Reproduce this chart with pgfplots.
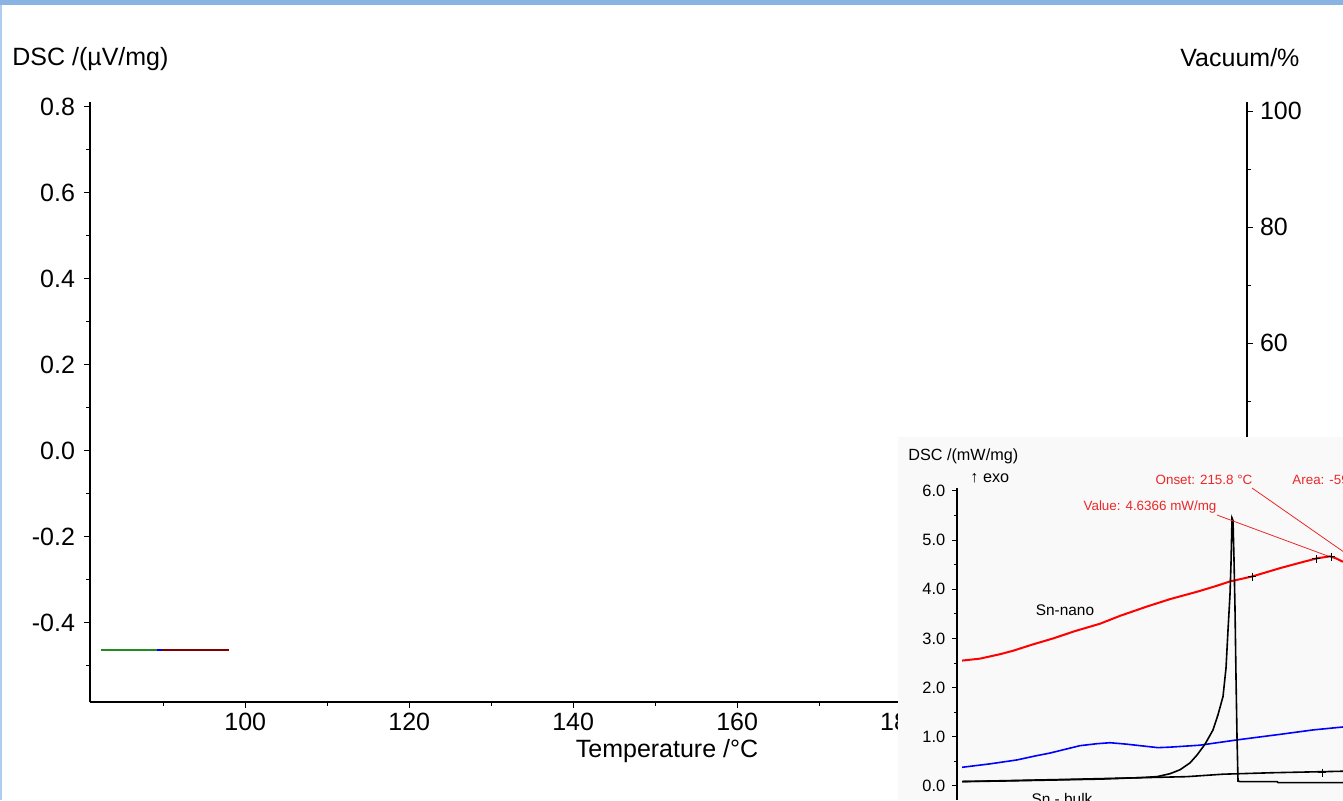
\documentclass[border=0pt]{standalone}
\usepackage{fontspec}
\setmainfont{Liberation Sans}
\usepackage{pgfplots}
\pgfplotsset{compat=1.18}
\definecolor{dscgreen}{RGB}{34,139,34}
\definecolor{dscred}{RGB}{128,0,0}
\definecolor{band}{RGB}{137,179,226}
\definecolor{strip}{RGB}{175,205,240}
\definecolor{insetbg}{RGB}{249,249,249}
\definecolor{annred}{RGB}{235,40,40}
\newcommand{\mainfont}{\fontsize{12.5}{15}\selectfont}
\begin{document}
\begin{tikzpicture}
\fill[white] (0,0) rectangle (671.5pt,400pt);
\fill[band] (0,397.5pt) rectangle (671.5pt,400pt);
\fill[strip] (0,0) rectangle (1pt,397.5pt);

% main DSC axis
\begin{axis}[
  at={(45pt,49pt)}, anchor=south west, scale only axis,
  width=578.5pt, height=300pt,
  xmin=81.06, xmax=222.2, ymin=-0.5844, ymax=0.811,
  axis x line=bottom, axis y line=left,
  axis line style={-, line width=0.6pt},
  tick align=outside, major tick length=3pt, minor tick length=2pt,
  tick style={black, line width=0.5pt},
  xtick={100,120,140,160,180,200,220},
  xticklabels={100,120,140,160,180,200,220},
  minor xtick={90,110,130,150,170,190,210},
  ytick={-0.4,-0.2,0,0.2,0.4,0.6,0.8},
  yticklabels={-0.4,-0.2,0.0,0.2,0.4,0.6,0.8},
  minor ytick={-0.5,-0.3,-0.1,0.1,0.3,0.5,0.7},
  ticklabel style={font=\mainfont},
  xticklabel style={yshift=1pt},
  yticklabel style={xshift=-1pt},
  clip=false,
]
\addplot[dscgreen, line width=0.75pt] coordinates {(82.40,-0.4635) (89.23,-0.4635)};
\addplot[blue, line width=0.75pt] coordinates {(89.23,-0.4635) (89.84,-0.4635)};
\addplot[dscred, line width=0.75pt] coordinates {(89.84,-0.4635) (98.01,-0.4635)};
\end{axis}

% right vacuum axis
\begin{axis}[
  at={(45pt,49pt)}, anchor=south west, scale only axis,
  width=578.5pt, height=300pt,
  xmin=81.06, xmax=222.2, ymin=-1.77, ymax=101.55,
  axis x line=none, axis y line=right,
  axis line style={-, line width=0.6pt},
  tick align=outside, major tick length=3pt, minor tick length=2pt,
  tick style={black, line width=0.5pt},
  ytick={0,20,40,60,80,100},
  yticklabels={0,20,40,60,80,100},
  minor ytick={10,30,50,70,90},
  ticklabel style={font=\mainfont},
]
\addplot[draw=none] coordinates {(100,50)};
\end{axis}

\node[anchor=west, font=\mainfont, inner sep=0pt] at (6pt,370.5pt) {DSC /(µV/mg)};
\node[anchor=west, font=\mainfont, inner sep=0pt] at (590pt,371pt) {Vacuum/\%};
\node[font=\mainfont, inner sep=0pt] at (333.5pt,24.5pt) {Temperature /°C};

% inset picture
\fill[insetbg] (449pt,0pt) rectangle (671.5pt,181.5pt);
\begin{axis}[
  at={(478.65pt,0pt)}, anchor=south west, scale only axis,
  width=192.85pt, height=156pt,
  xmin=957.3, xmax=1343, ymin=-0.285, ymax=6.06,
  axis x line=none, axis y line=left,
  axis line style={-, line width=1pt},
  tick align=outside, major tick length=2.5pt, minor tick length=1.5pt,
  tick style={black, line width=0.5pt},
  ytick={0,1,2,3,4,5,6},
  yticklabels={0.0,1.0,2.0,3.0,4.0,5.0,6.0},
  minor ytick={0.5,1.5,2.5,3.5,4.5,5.5},
  ticklabel style={font=\fontsize{8.2}{10}\selectfont},
  clip=false,
]
% Sn-nano (red)
\addplot[red, line width=1pt] coordinates {
(962,2.55)(980,2.59)(1000,2.68)(1013,2.75)(1033,2.88)(1053,3.00)(1075,3.15)(1100,3.30)
(1120,3.46)(1147,3.65)(1170,3.80)(1197,3.95)(1215,4.06)(1230,4.16)(1252,4.26)(1280,4.43)
(1300,4.54)(1317,4.63)(1330,4.67)(1336,4.63)(1343,4.56)};
% blue
\addplot[blue, line width=0.8pt] coordinates {
(962,0.38)(990,0.45)(1017,0.53)(1035,0.61)(1050,0.67)(1080,0.82)(1097,0.86)(1110,0.88)
(1127,0.85)(1140,0.82)(1158,0.78)(1170,0.79)(1200,0.83)(1238,0.94)(1280,1.05)(1313,1.14)(1343,1.20)};
% black baseline (Sn-bulk)
\addplot[black, line width=0.8pt] coordinates {
(962,0.09)(1080,0.14)(1187,0.19)(1223,0.24)(1273,0.27)(1343,0.30)};
% black peak
\addplot[black, line width=0.8pt] coordinates {
(962,0.09)(1000,0.10)(1050,0.12)(1100,0.14)(1140,0.17)(1157,0.19)(1170,0.25)(1180,0.33)
(1190,0.47)(1197,0.63)(1205,0.85)(1213,1.14)(1218,1.45)(1223,1.82)(1226,2.40)(1228,3.17)
(1230,3.90)(1231,4.53)(1232,5.45)(1233,5.40)(1234,4.60)(1235,3.60)(1236,2.20)(1237,1.00)
(1238,0.10)(1240,0.09)(1277,0.09)(1278,0.07)(1343,0.07)};
% evaluation markers
\addplot[black, only marks, mark=+, mark size=2pt, line width=0.4pt] coordinates {
(1252,4.26)(1316,4.62)(1331,4.66)(1322,0.27)};
% annotation leader lines
\addplot[annred, line width=0.4pt] coordinates {(1217,5.51)(1330,4.66)};
\addplot[annred, line width=0.4pt] coordinates {(1252,6.06)(1343,4.77)};
\end{axis}

\node[anchor=west, inner sep=0pt, font=\fontsize{8.1}{10}\selectfont] at (454pt,172pt) {DSC /(mW/mg)};
\node[anchor=west, inner sep=0pt, font=\fontsize{8.1}{10}\selectfont] at (485pt,161pt) {↑ exo};
\node[inner sep=0pt, text=annred, font=\fontsize{6.7}{8}\selectfont] at (602pt,160pt) {Onset: 215.8 °C};
\node[anchor=west, inner sep=0pt, text=annred, font=\fontsize{6.7}{8}\selectfont] at (646pt,160pt) {Area: -59};
\node[inner sep=0pt, text=annred, font=\fontsize{6.7}{8}\selectfont] at (575pt,146.5pt) {Value: 4.6366 mW/mg};
\node[inner sep=0pt, font=\fontsize{7.7}{9}\selectfont] at (532.5pt,95pt) {Sn-nano};
\node[inner sep=0pt, font=\fontsize{7.7}{9}\selectfont] at (531pt,0.5pt) {Sn - bulk};

\pgfresetboundingbox
\path[use as bounding box] (0,0) rectangle (671.5pt,400pt);
\end{tikzpicture}
\end{document}
